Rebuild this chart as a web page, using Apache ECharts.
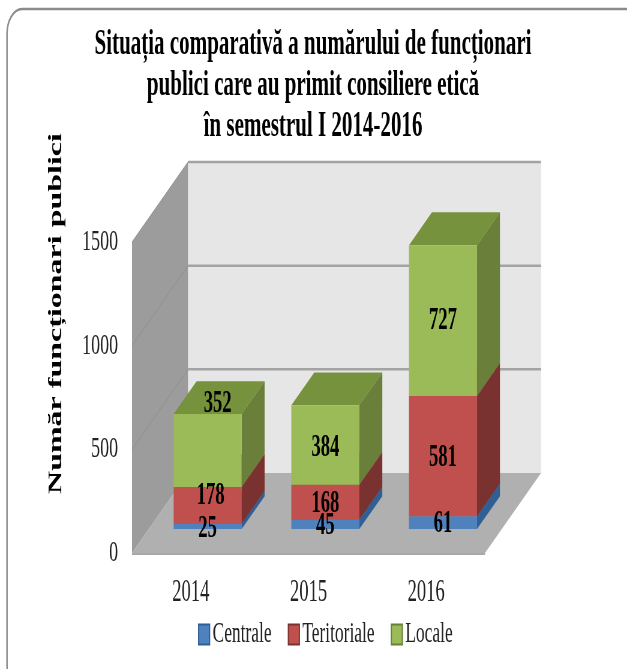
<!DOCTYPE html>
<html>
<head>
<meta charset="utf-8">
<style>
html,body{margin:0;padding:0;background:#fff;width:627px;height:669px;overflow:hidden}
#c{height:669px;transform-origin:0 0}
</style>
<script src="https://cdn.jsdelivr.net/npm/echarts@6/dist/echarts.min.js"></script>
</head>
<body>
<div id="c"></div>
<script>
var categories = ['2014', '2015', '2016'];
var centrale = [25, 45, 61];
var teritoriale = [178, 168, 581];
var locale = [352, 384, 727];
var seriesNames = ['Centrale', 'Teritoriale', 'Locale'];
var yTicks = [0, 500, 1000, 1500];
var titleText = 'Situația comparativă a numărului de funcționari\npublici care au primit consiliere etică\nîn semestrul I 2014-2016';
var yName = 'Număr funcționari publici';

// The reference is squeezed horizontally: draw wide, then condense the page.
var S = 0.6;
var W = 627 / S;
var FONT = '"Liberation Serif","Times New Roman",serif';
var el = document.getElementById('c');
el.style.width = W + 'px';
el.style.transform = 'scaleX(' + S + ')';

var faces = [
  {front:'#4f81bd', side:'#2f5f94', top:'#3f6ea6'},
  {front:'#c0504d', side:'#7a3230', top:'#953735'},
  {front:'#9bbb59', side:'#697f3a', top:'#76923c'}
];
var WALL_DX = 56 / S, WALL_DY = -80, BAR_DEPTH_START = 0.3, BAR_DEPTH = 0.41, BAR_W = 68 / S;
var stacks = [centrale, teritoriale, locale];

function poly(points, fill) {
  return {type:'polygon', shape:{points:points}, style:{fill:fill}};
}
function renderWall(params, api) {
  var v = api.value(0);
  var cs = params.coordSys;
  var y = api.coord([0, v])[1];
  var x0 = cs.x, x1 = cs.x + cs.width;
  var kids = [];
  if (v === 0) {
    var yTop = cs.y;
    kids.push(poly([[x0 + WALL_DX, yTop + WALL_DY],[x1 + WALL_DX, yTop + WALL_DY],[x1 + WALL_DX, y + WALL_DY],[x0 + WALL_DX, y + WALL_DY]], '#e6e6e6'));
    kids.push(poly([[x0, yTop],[x0 + WALL_DX, yTop + WALL_DY],[x0 + WALL_DX, y + WALL_DY],[x0, y]], '#9c9c9c'));
    kids.push(poly([[x0, y],[x0 + WALL_DX, y + WALL_DY],[x1 + WALL_DX, y + WALL_DY],[x1, y]], '#b0b0b0'));
    kids.push({type:'line', shape:{x1:x0, y1:y + 1, x2:x1, y2:y + 1}, style:{stroke:'#a8a8a8', lineWidth:2}});
  } else {
    kids.push({type:'line', shape:{x1:x0 + WALL_DX, y1:y + WALL_DY, x2:x1 + WALL_DX, y2:y + WALL_DY}, style:{stroke:'#a3a3a3', lineWidth:2.5}});
    kids.push({type:'line', shape:{x1:x0, y1:y, x2:x0 + WALL_DX, y2:y + WALL_DY}, style:{stroke:'#8e8e8e', lineWidth:1}});
  }
  return {type:'group', children:kids};
}
function renderBar(params, api) {
  var face = faces[params.seriesIndex - 1];
  var cat = api.value(0), base = api.value(1), val = api.value(2);
  var c0 = api.coord([cat, base]), c1 = api.coord([cat, base + val]);
  var ox = WALL_DX * BAR_DEPTH_START, oy = WALL_DY * BAR_DEPTH_START;
  var dx = WALL_DX * BAR_DEPTH, dy = WALL_DY * BAR_DEPTH;
  var l = c0[0] + ox - BAR_W / 2, r = l + BAR_W;
  var b = c0[1] + oy, t = c1[1] + oy;
  return {type:'group', children:[
    poly([[l, t],[l + dx, t + dy],[r + dx, t + dy],[r, t]], face.top),
    poly([[r, b],[r + dx, b + dy],[r + dx, t + dy],[r, t]], face.side),
    poly([[l, b],[r, b],[r, t],[l, t]], face.front)
  ]};
}
// small shifts of individual value labels: [x px, y px] per series, per category
var labelShift = [
  [[0, 3],[0, 2],[0, 1]],
  [[3, -9],[0, 2],[0, 2]],
  [[10, -46],[0, 3],[0, 0]]
];
function renderLabel(params, api) {
  var cat = api.value(0), mid = api.value(1), si = api.value(3);
  var c = api.coord([cat, mid]);
  var sh = labelShift[si][cat];
  return {type:'text', style:{
    text:String(api.value(2)),
    x:c[0] + WALL_DX * BAR_DEPTH_START + sh[0] / S,
    y:c[1] + WALL_DY * BAR_DEPTH_START + sh[1],
    align:'center', verticalAlign:'middle',
    font:'bold 31px ' + FONT, fill:'#000'
  }};
}

var barSeries = [], labelData = [];
seriesNames.forEach(function (name, si) {
  var rows = categories.map(function (_, ci) {
    var base = 0;
    for (var k = 0; k < si; k++) base += stacks[k][ci];
    labelData.push([ci, base + stacks[si][ci] / 2, stacks[si][ci], si]);
    return [ci, base, stacks[si][ci]];
  });
  barSeries.push({
    type:'custom', name:name, renderItem:renderBar, data:rows,
    itemStyle:{color:faces[si].front, borderColor:faces[si].side, borderWidth:1},
    encode:{x:0, y:[1, 2]}, silent:true, z:3
  });
});

var chart = echarts.init(el, null, {width:W, height:669});
chart.setOption({
  animation:false,
  backgroundColor:'#fff',
  graphic:[{
    type:'rect', z:-1, silent:true,
    shape:{x:7 / S, y:9, width:650 / S, height:681, r:[25, 25, 25, 25]},
    style:{fill:'#fff', stroke:'#8c8c8c', lineWidth:2.5}
  }],
  title:{
    text:titleText, left:310 / S, top:19, textAlign:'center',
    textStyle:{fontFamily:FONT, fontWeight:'bold', fontSize:35, lineHeight:41, color:'#000'}
  },
  legend:{
    data:seriesNames, left:195 / S, top:615, icon:'rect',
    itemWidth:11 / S, itemHeight:20, itemGap:27,
    textStyle:{fontFamily:FONT, fontSize:29, color:'#222'}
  },
  grid:{left:132 / S, right:W - 485 / S, top:242, bottom:669 - 553},
  xAxis:{
    type:'category', data:categories,
    axisLine:{show:false}, axisTick:{show:false}, splitLine:{show:false},
    axisLabel:{margin:24, fontFamily:FONT, fontSize:31, color:'#222'}
  },
  yAxis:{
    type:'value', min:0, max:1500, interval:500,
    name:yName, nameLocation:'middle', nameRotate:90, nameGap:(132 - 66) / S,
    nameTextStyle:{fontFamily:FONT, fontWeight:'bold', fontSize:32, color:'#000', padding:[0, 0, 0, 168]},
    axisLine:{show:false}, axisTick:{show:false}, splitLine:{show:false},
    axisLabel:{margin:14 / S, fontFamily:FONT, fontSize:30, color:'#222', formatter:function (v) { return String(v); }}
  },
  series:[
    {type:'custom', renderItem:renderWall, data:yTicks.map(function (v) { return [v]; }), encode:{y:0}, silent:true, z:1}
  ].concat(barSeries).concat([
    {type:'custom', renderItem:renderLabel, data:labelData, encode:{x:0, y:1}, silent:true, z:5}
  ])
});
</script>
</body>
</html>
